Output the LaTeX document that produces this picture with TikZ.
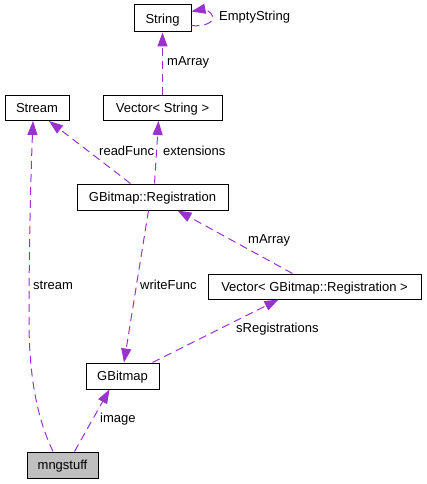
\documentclass[tikz,border=0pt]{standalone}
\usepackage{fontspec}
\setmainfont{Liberation Sans}
\usetikzlibrary{arrows.meta}
\definecolor{edgec}{RGB}{154,50,205}
\definecolor{grayfill}{RGB}{191,191,191}
\tikzset{
  cls/.style={draw=black, line width=1pt, fill=white, inner sep=0pt, text height=9.4pt, text depth=0pt, font=\fontsize{13}{15}\selectfont},
  lbl/.style={anchor=west, inner sep=0pt, font=\fontsize{13}{15}\selectfont},
  rel/.style={draw=edgec, line width=1pt, dash pattern=on 8pt off 5pt, -{Triangle[length=14pt,width=10pt,fill=edgec]}},
}
\begin{document}
\begin{tikzpicture}[x=1pt,y=-1pt]
\useasboundingbox (0,0) rectangle (426,484);
\node[cls, minimum width=57pt, minimum height=27pt] (str) at (162.5,18.5) {String};
\node[cls, minimum width=64pt, minimum height=25pt] (stream) at (37,108) {Stream};
\node[cls, minimum width=119pt, minimum height=25pt] (vstr) at (162.5,108) {Vector< String >};
\node[cls, minimum width=151pt, minimum height=26pt] (reg) at (152.5,197) {GBitmap::Registration};
\node[cls, minimum width=213pt, minimum height=25pt] (vreg) at (314.5,286.5) {Vector< GBitmap::Registration >};
\node[cls, minimum width=73pt, minimum height=26pt] (gbm) at (122.5,376) {GBitmap};
\node[cls, fill=grayfill, minimum width=71pt, minimum height=26pt] (mng) at (62.5,465) {mngstuff};

% self loop
\draw[rel] ([yshift=-7pt]str.east) .. controls (202,27) and (214,23) .. (213,17) .. controls (212,12) and (204,9) .. ([yshift=7pt]str.east);
\node[lbl] (l1) at (219,17) {EmptyString};

\draw[rel] (vstr.north) -- (str.south);
\node[lbl] (l2) at (167,62) {mArray};

\draw[rel] ([xshift=2pt]reg.north) -- ([xshift=-4pt]vstr.south);
\node[lbl] (l3) at (163,151) {extensions};

\draw[rel] ([xshift=-22pt]reg.north) -- ([xshift=12pt]stream.south);
\node[lbl] (l4) at (99,151) {readFunc};

\draw[rel] ([xshift=-9.5pt]mng.north) .. controls (38,420) and (29,380) .. (29,320) .. controls (29,240) and (31,170) .. ([xshift=-4pt]stream.south);
\node[lbl] (l5) at (33,285) {stream};

\draw[rel] ([xshift=-4pt]reg.south) -- ([xshift=1.5pt]gbm.north);
\node[lbl] (l6) at (140,285) {writeFunc};

\draw[rel] ([xshift=-22pt]vreg.north) -- ([xshift=25pt]reg.south);
\node[lbl] (l7) at (248,240) {mArray};

\draw[rel] ([xshift=30pt]gbm.north) -- ([xshift=-36pt]vreg.south);
\node[lbl] (l8) at (236,329) {sRegistrations};

\draw[rel] ([xshift=12pt]mng.north) -- ([xshift=-13pt]gbm.south);
\node[lbl] (l9) at (100,419) {image};
\end{tikzpicture}
\end{document}
